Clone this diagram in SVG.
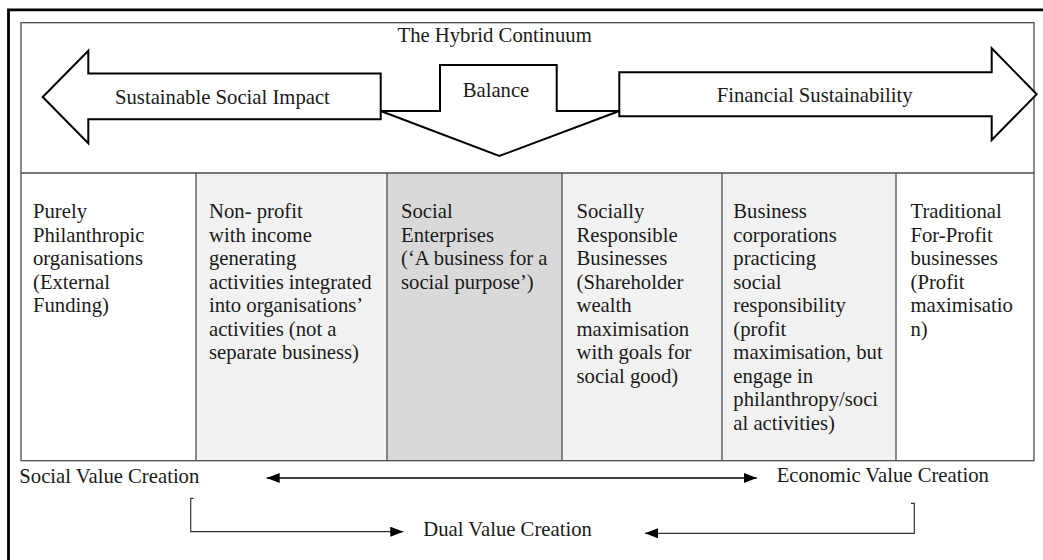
<svg xmlns="http://www.w3.org/2000/svg" width="1043" height="560" viewBox="0 0 1043 560" font-family="'Liberation Serif', 'Times New Roman', Times, 'DejaVu Serif', serif">
<defs>
<style>
text{font-family:'Liberation Serif','Times New Roman',Times,'DejaVu Serif',serif;font-size:20.7px;fill:#1a1a1a;}
.grid{fill:none;stroke:#4d4d4d;stroke-width:1.3;}
.shape{fill:#ffffff;stroke:#000000;stroke-width:2;stroke-linejoin:miter;}
.conn{fill:none;stroke:#000000;stroke-width:1.5;}
.thin{fill:none;stroke:#333333;stroke-width:1.2;}
</style>
<marker id="ah" markerWidth="14" markerHeight="10" refX="13" refY="5" orient="auto-start-reverse" markerUnits="userSpaceOnUse">
<path d="M0,0 L13,5 L0,10 Z" fill="#000000"/>
</marker>
</defs>
<rect width="1043" height="560" fill="#ffffff"/>
<path d="M8.5,560 V9.8 H1043" fill="none" stroke="#000000" stroke-width="2.8"/>
<g id="table">
<rect x="196" y="173" width="191" height="287.7" fill="#f2f2f2"/>
<rect x="387" y="173" width="175" height="287.7" fill="#d9d9d9"/>
<rect x="562" y="173" width="160" height="287.7" fill="#f2f2f2"/>
<rect x="722" y="173" width="174" height="287.7" fill="#f2f2f2"/>
<rect class="grid" x="21" y="22.7" width="1013" height="438"/>
<line class="grid" x1="21" y1="173" x2="1034" y2="173"/>
<line class="grid" x1="196" y1="173" x2="196" y2="460.7"/>
<line class="grid" x1="387" y1="173" x2="387" y2="460.7"/>
<line class="grid" x1="562" y1="173" x2="562" y2="460.7"/>
<line class="grid" x1="722" y1="173" x2="722" y2="460.7"/>
<line class="grid" x1="896" y1="173" x2="896" y2="460.7"/>
</g>
<g id="title">
<text x="397.5" y="41.5">The Hybrid Continuum</text>
</g>
<g id="social-impact-arrow">
<polygon class="shape" points="42.7,97 88.3,50.7 88.3,73.5 380.7,73.5 380.7,119.3 88.3,119.3 88.3,143.3"/>
<text x="115" y="104">Sustainable Social Impact</text>
</g>
<g id="balance">
<polygon class="shape" points="380.7,111 440,111 440,65 556.7,65 556.7,111 619.3,111 499.3,156"/>
<text x="462.7" y="96.5">Balance</text>
</g>
<g id="financial-arrow">
<polygon class="shape" points="619.3,72.3 991.7,72.3 991.7,48.3 1036.7,94.3 991.7,140 991.7,116.3 619.3,116.3"/>
<text x="716.7" y="102">Financial Sustainability</text>
</g>
<g id="col1">
<text x="33" y="218">Purely</text>
<text x="33" y="241.5">Philanthropic</text>
<text x="33" y="265">organisations</text>
<text x="33" y="288.5">(External</text>
<text x="33" y="312">Funding)</text>
</g>
<g id="col2">
<text x="209" y="218">Non- profit</text>
<text x="209" y="241.5">with income</text>
<text x="209" y="265">generating</text>
<text x="209" y="288.5">activities integrated</text>
<text x="209" y="312">into organisations’</text>
<text x="209" y="335.5">activities (not a</text>
<text x="209" y="359">separate business)</text>
</g>
<g id="col3">
<text x="401" y="218">Social</text>
<text x="401" y="241.5">Enterprises</text>
<text x="401" y="265">(‘A business for a</text>
<text x="401" y="288.5">social purpose’)</text>
</g>
<g id="col4">
<text x="576.5" y="218">Socially</text>
<text x="576.5" y="241.5">Responsible</text>
<text x="576.5" y="265">Businesses</text>
<text x="576.5" y="288.5">(Shareholder</text>
<text x="576.5" y="312">wealth</text>
<text x="576.5" y="335.5">maximisation</text>
<text x="576.5" y="359">with goals for</text>
<text x="576.5" y="382.5">social good)</text>
</g>
<g id="col5">
<text x="733.3" y="218">Business</text>
<text x="733.3" y="241.5">corporations</text>
<text x="733.3" y="265">practicing</text>
<text x="733.3" y="288.5">social</text>
<text x="733.3" y="312">responsibility</text>
<text x="733.3" y="335.5">(profit</text>
<text x="733.3" y="359">maximisation, but</text>
<text x="733.3" y="382.5">engage in</text>
<text x="733.3" y="406">philanthropy/soci</text>
<text x="733.3" y="429.5">al activities)</text>
</g>
<g id="col6">
<text x="910.5" y="218">Traditional</text>
<text x="910.5" y="241.5">For-Profit</text>
<text x="910.5" y="265">businesses</text>
<text x="910.5" y="288.5">(Profit</text>
<text x="910.5" y="312">maximisatio</text>
<text x="910.5" y="335.5">n)</text>
</g>
<g id="social-value">
<text x="19.3" y="482.5">Social Value Creation</text>
</g>
<g id="economic-value">
<text x="776.7" y="482">Economic Value Creation</text>
</g>
<g id="dual-value">
<text x="423.3" y="536">Dual Value Creation</text>
</g>
<g id="connectors">
<line class="conn" x1="266.7" y1="478" x2="756.7" y2="478" marker-start="url(#ah)" marker-end="url(#ah)"/>
<path class="thin" d="M193.5,498.3 H190.7 V531.7 H403.3" marker-end="url(#ah)"/>
<path class="thin" d="M911,503.3 H914.3 V533.3 H645" marker-end="url(#ah)"/>
</g>
</svg>
